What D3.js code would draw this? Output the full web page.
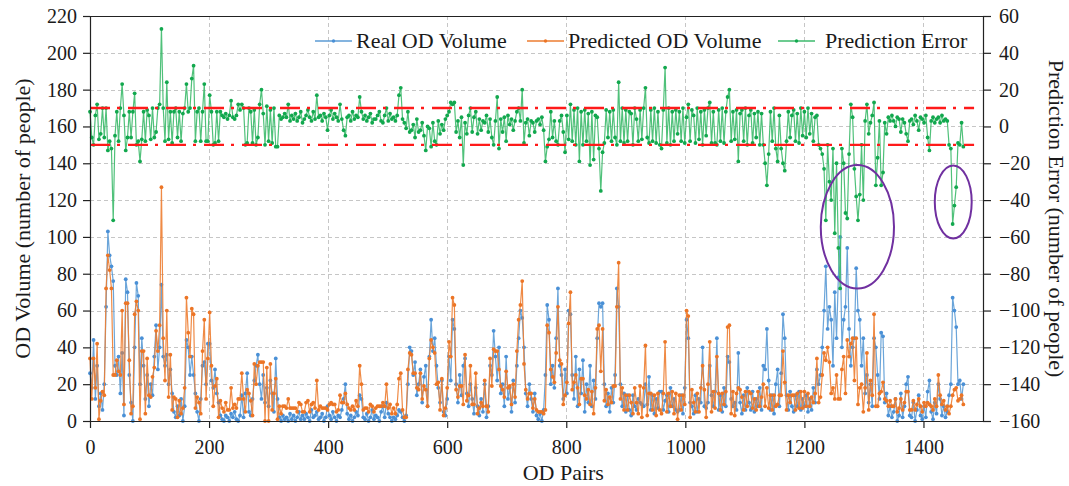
<!DOCTYPE html>
<html>
<head>
<meta charset="utf-8">
<script src="https://cdn.jsdelivr.net/npm/d3@7"></script>
<style>
  body { margin: 0; background: #fff; }
  svg { display: block; }
  text { font-family: "Liberation Serif", "Times New Roman", serif; fill: #1a1a1a; }
</style>
</head>
<body>
<svg id="chart" width="1069" height="486"></svg>
<script>
// OD pairs are sampled every third pair (0, 3, 6, ... 1467)
const PAIR_STEP = 3;

// Real OD volume (number of people)
const realVolume = [
  26,18,44,12,30,8,15,6,20,62,
  103,90,84,76,30,25,35,15,37,3,
  77,70,25,10,0,40,75,68,20,45,
  30,12,25,8,20,14,35,52,28,40,
  74,35,30,36,20,28,15,5,2,8,
  3,12,0,8,44,40,25,35,25,15,
  5,0,12,30,32,20,42,42,22,18,
  28,15,10,3,1,0,3,2,0,4,
  2,5,1,0,3,14,2,15,26,5,
  3,12,22,30,36,20,12,25,10,18,
  8,22,15,5,34,12,2,0,3,1,
  2,0,4,1,3,0,2,5,1,3,
  1,4,2,0,6,2,3,5,1,2,
  4,0,2,8,3,1,5,2,0,3,
  2,6,12,20,4,1,3,0,2,5,
  3,14,12,2,1,4,0,2,6,1,
  3,2,0,5,8,2,10,4,2,0,
  2,1,3,6,5,2,0,3,20,40,
  38,25,32,14,20,28,10,24,30,8,
  35,55,38,45,30,18,10,22,5,3,
  12,35,22,55,50,20,10,25,14,30,
  34,15,8,20,12,4,18,8,3,12,
  5,20,2,8,30,25,49,35,22,40,
  15,20,8,35,12,18,5,22,10,30,
  45,60,56,40,15,8,20,12,5,15,
  3,1,4,0,6,25,63,55,20,30,
  18,45,72,30,25,12,28,15,60,58,
  25,12,35,8,28,15,33,5,20,10,
  30,8,22,12,45,64,62,64,20,8,
  15,5,18,10,25,72,62,20,8,15,
  5,14,6,3,14,8,6,12,10,9,
  8,20,9,24,6,14,4,12,7,16,
  16,6,11,14,5,18,8,12,6,5,
  6,14,4,18,55,45,10,8,4,14,
  5,12,10,40,8,7,10,30,14,8,
  16,45,6,14,5,18,8,35,32,12,
  8,10,6,37,10,4,14,6,18,10,
  6,16,5,12,8,18,6,30,28,50,
  22,6,14,4,20,28,8,26,58,45,
  14,6,16,8,5,14,8,16,6,12,
  8,14,5,12,6,18,10,28,20,25,
  40,60,84,50,62,55,30,70,45,78,
  100,40,55,62,94,50,30,40,45,83,
  60,55,30,45,15,25,10,20,8,45,
  40,25,12,48,46,10,15,3,8,2,
  5,12,0,3,15,2,8,20,24,3,
  2,10,0,6,14,3,1,8,2,16,
  22,5,1,10,4,20,12,3,8,2,
  5,14,20,67,60,51,20,22,12,20
];

// Prediction error = predicted - real (number of people)
const predictionError = [
  8,-6,-10,6,12,-7,-4,10,-6,10,
  -13,-8,-12,-51,-5,8,-8,10,23,6,
  -13,-6,8,-6,8,18,-10,-8,-19,-7,
  8,-8,9,6,-7,10,-6,-3,10,12,
  53,10,-8,24,-7,8,-9,8,10,-6,
  8,-8,7,10,23,8,10,26,33,-8,
  8,10,-8,8,23,-8,-8,17,8,-10,
  -9,8,-8,8,6,5,7,4,6,14,
  5,4,6,12,9,12,10,-10,-9,10,
  8,-9,9,-10,-6,12,20,7,-10,11,
  -8,9,-9,10,-11,-11,6,4,5,7,
  5,12,3,6,4,7,3,5,8,2,
  4,6,9,5,3,8,4,17,5,6,
  3,7,5,-2,6,9,4,7,5,3,
  12,4,-2,-5,5,6,3,8,4,6,
  5,16,8,4,6,3,5,7,2,4,
  4,6,8,3,2,6,10,3,7,4,
  5,3,6,17,21,4,2,-1,8,-3,
  -2,1,-6,4,-3,-2,2,-5,-13,0,
  -1,-11,2,-8,-10,3,-4,1,-2,4,
  6,8,13,12,13,-3,3,-6,5,-21,
  2,-4,6,10,-3,5,8,-4,4,-2,
  3,2,6,-3,4,-6,-10,3,16,-12,
  4,-3,5,-8,6,1,4,-2,3,8,
  10,3,20,-9,2,4,-5,3,2,-3,
  3,4,1,5,-2,-19,-11,-7,8,-6,
  3,-8,-10,3,6,-3,-14,6,-7,12,
  -8,9,-10,10,-19,8,-10,9,-8,7,
  -21,8,-18,6,5,-12,-35,-14,-9,9,
  -6,8,-8,9,-6,-10,24,-8,10,-9,
  9,-8,8,7,-10,10,4,-8,9,-7,
  10,21,-6,-9,9,-8,10,-9,8,-10,
  -12,9,32,-9,10,-10,8,-8,9,-4,
  8,-8,10,-9,5,12,-8,9,6,-9,
  10,-7,8,-10,9,-5,10,13,-9,8,
  -9,-10,9,-8,10,-9,8,16,20,-8,
  8,-7,9,-19,7,9,-8,10,-10,6,
  9,-9,7,-6,8,-10,7,-10,-20,-32,
  -15,8,-8,10,-12,-19,6,-12,-20,-24,
  -8,8,-6,6,9,-8,7,-9,10,-5,
  8,-6,10,-4,7,-8,5,6,-10,-12,
  -15,-23,-51,-10,-30,-40,-12,-58,-20,-66,
  -88,-12,-20,-47,-50,-15,12,5,-23,-38,
  -51,-37,-10,-40,3,12,-4,2,6,13,
  -32,-17,3,-32,-25,2,-4,5,3,6,
  3,0,5,4,-3,4,2,-4,-8,3,
  4,1,6,3,-2,5,4,2,6,-6,
  -13,3,5,2,4,5,2,6,3,4,
  3,-10,-12,-53,-43,-33,-9,-10,2,-11
];

// Predicted OD volume = real + error
const predictedVolume = realVolume.map((v, i) => v + predictionError[i]);

// Axis ticks
const pairTicks = [0, 200, 400, 600, 800, 1000, 1200, 1400];
const volumeTicks = [0, 20, 40, 60, 80, 100, 120, 140, 160, 180, 200, 220];
const errorTicks = [-160, -140, -120, -100, -80, -60, -40, -20, 0, 20, 40, 60];

// +/-10 error band
const errorBand = [10, -10];

// Highlighted groups of large errors (centre pair, centre error, radii in data units)
const flagPairs = [1289, 1450];
const flagErrors = [-54.5, -41];
const flagPairRadii = [61.5, 31];
const flagErrorRadii = [33.5, 19.8];

// Series styles and legend labels
const seriesNames = ["Real OD Volume", "Predicted OD Volume", "Prediction Error"];
const seriesLine = ["#5b9bd5", "#ed7d31", "#3dba6c"];
const seriesDot = ["#4a90d6", "#ec7526", "#12a84e"];

const svg = d3.select("#chart");
const plot = { left: 90, right: 983, top: 16, bottom: 421 };

const x = d3.scaleLinear().domain([0, 1500]).range([plot.left, plot.right]);
const yL = d3.scaleLinear().domain([0, 220]).range([plot.bottom, plot.top]);
const yR = d3.scaleLinear().domain([-160, 60]).range([plot.bottom, plot.top]);

// Dashed grid
const grid = svg.append("g").attr("stroke", "#c6c6c6").attr("stroke-width", 1)
  .attr("stroke-dasharray", "4,3");
grid.selectAll("line.h").data(volumeTicks.filter(t => t > 0 && t < 220)).join("line")
  .attr("class", "h")
  .attr("x1", plot.left).attr("x2", plot.right)
  .attr("y1", d => Math.round(yL(d)) + 0.5).attr("y2", d => Math.round(yL(d)) + 0.5);
grid.selectAll("line.v").data(pairTicks.filter(t => t > 0)).join("line")
  .attr("class", "v")
  .attr("y1", plot.top).attr("y2", plot.bottom)
  .attr("x1", d => Math.round(x(d)) + 0.5).attr("x2", d => Math.round(x(d)) + 0.5);

// Top border
svg.append("line").attr("x1", plot.left).attr("x2", plot.right)
  .attr("y1", plot.top + 0.5).attr("y2", plot.top + 0.5)
  .attr("stroke", "#222").attr("stroke-width", 1);

// Series
function drawSeries(values, yScale, k) {
  const pts = values.map((v, i) => [i * PAIR_STEP, v]);
  const line = d3.line().x(d => x(d[0])).y(d => yScale(d[1]));
  const g = svg.append("g");
  g.append("path").datum(pts).attr("d", line)
    .attr("fill", "none").attr("stroke", seriesLine[k]).attr("stroke-width", 1.2)
    .attr("stroke-opacity", 0.9);
  g.selectAll("circle").data(pts).join("circle")
    .attr("cx", d => x(d[0])).attr("cy", d => yScale(d[1])).attr("r", 1.9)
    .attr("fill", seriesDot[k]);
}
drawSeries(realVolume, yL, 0);
drawSeries(predictedVolume, yL, 1);
drawSeries(predictionError, yR, 2);

// Error band lines
svg.append("g").selectAll("line").data(errorBand).join("line")
  .attr("x1", x(0)).attr("x2", x(1485))
  .attr("y1", d => yR(d)).attr("y2", d => yR(d))
  .attr("stroke", "#ff1a1a").attr("stroke-width", 2.4)
  .attr("stroke-dasharray", "20,7,3,8");

// Highlight ellipses
svg.append("g").selectAll("ellipse").data(flagPairs).join("ellipse")
  .attr("cx", d => x(d))
  .attr("cy", (d, i) => yR(flagErrors[i]))
  .attr("rx", (d, i) => x(flagPairRadii[i]) - x(0))
  .attr("ry", (d, i) => yR(0) - yR(flagErrorRadii[i]))
  .attr("fill", "none").attr("stroke", "#7030a0").attr("stroke-width", 2);

// Axes
function styleAxis(g) {
  g.select(".domain").attr("stroke", "#222").attr("stroke-width", 1.2);
  g.selectAll(".tick line").attr("stroke", "#222").attr("stroke-width", 1.2);
  g.selectAll(".tick text").attr("font-size", 20).attr("fill", "#1a1a1a")
    .attr("font-family", "Liberation Serif, Times New Roman, serif");
}
svg.append("g").attr("transform", `translate(${plot.left},0)`)
  .call(d3.axisLeft(yL).tickValues(volumeTicks).tickSize(7).tickSizeOuter(0).tickPadding(6))
  .call(styleAxis);
svg.append("g").attr("transform", `translate(${plot.right},0)`)
  .call(d3.axisRight(yR).tickValues(errorTicks).tickSize(8).tickSizeOuter(0).tickPadding(8))
  .call(styleAxis);
svg.append("g").attr("transform", `translate(0,${plot.bottom})`)
  .call(d3.axisBottom(x).tickValues(pairTicks).tickFormat(d3.format("d"))
    .tickSize(7).tickSizeOuter(0).tickPadding(12))
  .call(styleAxis);

// Axis titles
svg.append("text").attr("transform", `translate(30,${(plot.top + plot.bottom) / 2}) rotate(-90)`)
  .attr("text-anchor", "middle").attr("font-size", 22).text("OD Volume (number of people)");
svg.append("text").attr("transform", `translate(1049,${(plot.top + plot.bottom) / 2}) rotate(90)`)
  .attr("text-anchor", "middle").attr("font-size", 22).text("Prediction Error (number of people)");
svg.append("text").attr("x", x(800) - 3).attr("y", 480)
  .attr("text-anchor", "middle").attr("font-size", 22).text("OD Pairs");

// Legend
const legendX = [315, 527, 778];
const legend = svg.append("g").selectAll("g").data(seriesNames).join("g")
  .attr("transform", (d, i) => `translate(${legendX[i]},41)`);
legend.append("line").attr("x1", 0).attr("x2", 37).attr("y1", 0).attr("y2", 0)
  .attr("stroke", (d, i) => seriesLine[i]).attr("stroke-width", 1.5);
legend.append("circle").attr("cx", 18.5).attr("cy", 0).attr("r", 1.7)
  .attr("fill", (d, i) => seriesDot[i]);
legend.append("text").attr("x", (d, i) => i === 2 ? 47 : 41).attr("y", 7)
  .attr("font-size", 22).text(d => d);
</script>
</body>
</html>
